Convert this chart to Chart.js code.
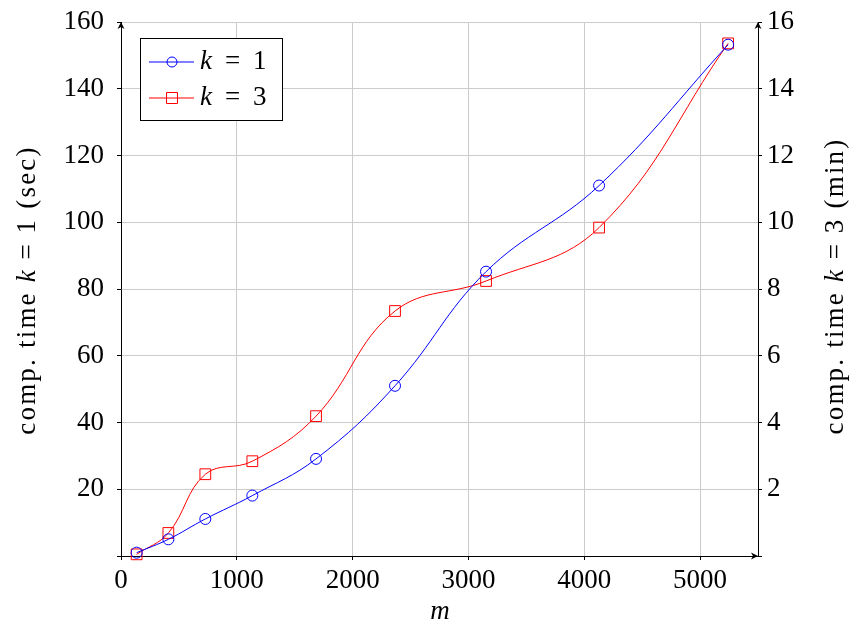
<!DOCTYPE html>
<html>
<head>
<meta charset="utf-8">
<script src="https://cdn.jsdelivr.net/npm/chart.js@4.4.1/dist/chart.umd.min.js"></script>
<style>
  html, body { margin: 0; padding: 0; background: #fff; }
  #wrap { width: 852px; height: 626px; }
</style>
</head>
<body>
<div id="wrap"><canvas id="timeChart" width="852" height="626"></canvas></div>
<script>
// values
const mValues = [135, 409, 728, 1134, 1684, 2366, 3152, 4128, 5242];
const k1Seconds = [1.0, 5.0, 11.1, 18.1, 29.1, 51, 85.2, 111, 153.2];
const k3Minutes = [0.05, 0.69, 2.45, 2.84, 4.19, 7.34, 8.24, 9.84, 15.36];
const xTicks = [0, 1000, 2000, 3000, 4000, 5000];

const serif = 'Liberation Serif';
const fontSize = 27;
const gridGray = '#cccccc';

// draw a string made of roman / italic pieces and gaps (in em)
function drawMixed(ctx, parts, x, y, size, align, spacing) {
  ctx.letterSpacing = (spacing || 0) + 'px';
  let total = 0;
  parts.forEach(p => {
    if (p.gap) { p.w = p.gap * size; total += p.w; return; }
    ctx.font = (p.it ? 'italic ' : '') + size + 'px "' + serif + '"';
    p.w = ctx.measureText(p.t).width;
    total += p.w;
  });
  let cx = align === 'left' ? x : x - total / 2;
  ctx.textAlign = 'left';
  ctx.textBaseline = 'middle';
  parts.forEach(p => {
    if (!p.gap) {
      ctx.font = (p.it ? 'italic ' : '') + size + 'px "' + serif + '"';
      ctx.fillText(p.t, cx, y);
    }
    cx += p.w;
  });
  ctx.letterSpacing = '0px';
}

function arrowHead(ctx, x, y, dir) {
  ctx.beginPath();
  if (dir === 'up') {
    ctx.moveTo(x, y);
    ctx.lineTo(x - 3.5, y + 7);
    ctx.lineTo(x, y + 5);
    ctx.lineTo(x + 3.5, y + 7);
  } else {
    ctx.moveTo(x, y);
    ctx.lineTo(x - 7, y - 3.5);
    ctx.lineTo(x - 5, y);
    ctx.lineTo(x - 7, y + 3.5);
  }
  ctx.closePath();
  ctx.fill();
}

const decorations = {
  id: 'decorations',
  afterDraw(chart) {
    const { ctx, chartArea: a } = chart;
    ctx.save();
    ctx.fillStyle = '#000';
    ctx.strokeStyle = '#000';

    arrowHead(ctx, a.left, a.top, 'up');
    arrowHead(ctx, a.right, a.top, 'up');
    arrowHead(ctx, a.right, a.bottom, 'right');

    // axis titles
    ctx.save();
    ctx.translate(28, 290);
    ctx.rotate(-Math.PI / 2);
    drawMixed(ctx, [{ t: 'comp. time ' }, { t: 'k', it: true }, { gap: 0.32 }, { t: '=' }, { gap: 0.32 }, { t: '1 (sec)' }], 0, 0, fontSize, 'center', 2.2);
    ctx.restore();

    ctx.save();
    ctx.translate(836, 286);
    ctx.rotate(-Math.PI / 2);
    drawMixed(ctx, [{ t: 'comp. time ' }, { t: 'k', it: true }, { gap: 0.32 }, { t: '=' }, { gap: 0.32 }, { t: '3 (min)' }], 0, 0, fontSize, 'center', 2.2);
    ctx.restore();

    drawMixed(ctx, [{ t: 'm', it: true }], 440, 612, fontSize);

    // legend
    ctx.fillStyle = '#fff';
    ctx.fillRect(140.5, 38.5, 142, 82);
    ctx.lineWidth = 1;
    ctx.strokeRect(140.5, 38.5, 142, 82);

    chart.data.datasets.forEach((ds, i) => {
      const y = 62 + i * 36;
      ctx.strokeStyle = ds.borderColor;
      ctx.beginPath();
      ctx.moveTo(149, y);
      ctx.lineTo(194, y);
      ctx.stroke();
      ctx.beginPath();
      if (ds.pointStyle === 'rect') {
        ctx.rect(166.5, y - 5.5, 11, 11);
      } else {
        ctx.arc(172, y, 5, 0, Math.PI * 2);
      }
      ctx.stroke();
      ctx.fillStyle = '#000';
      drawMixed(ctx, [{ t: 'k', it: true }, { gap: 0.45 }, { t: '=' }, { gap: 0.45 }, { t: String(ds.kValue) }], 200, y, fontSize, 'left', 0.8);
    });
    ctx.restore();
  }
};

// keep tick labels from pushing the plot area around
function noPad(s) {
  s.paddingTop = 0; s.paddingBottom = 0; s.paddingLeft = 0; s.paddingRight = 0;
}

new Chart(document.getElementById('timeChart'), {
  type: 'line',
  data: {
    datasets: [
      {
        label: 'k = 1',
        kValue: 1,
        data: mValues.map((m, i) => ({ x: m, y: k1Seconds[i] })),
        yAxisID: 'y',
        borderColor: '#0000ff',
        backgroundColor: 'rgba(0,0,0,0)',
        borderWidth: 1,
        pointStyle: 'circle',
        pointRadius: 5.5,
        pointBorderWidth: 1,
        tension: 0.4,
        clip: false
      },
      {
        label: 'k = 3',
        kValue: 3,
        data: mValues.map((m, i) => ({ x: m, y: k3Minutes[i] })),
        yAxisID: 'y2',
        borderColor: '#ff0000',
        backgroundColor: 'rgba(0,0,0,0)',
        borderWidth: 1,
        pointStyle: 'rect',
        pointRadius: 7.6,
        pointBorderWidth: 1,
        tension: 0.4,
        clip: false
      }
    ]
  },
  options: {
    responsive: false,
    animation: false,
    layout: { padding: { top: 22, left: 0, right: 0, bottom: 0 } },
    plugins: { legend: { display: false }, tooltip: { enabled: false } },
    scales: {
      x: {
        type: 'linear',
        min: 0,
        max: 5500,
        afterBuildTicks: s => { s.ticks = xTicks.map(v => ({ value: v })); },
        afterFit: s => { s.height = 70; noPad(s); },
        grid: { color: gridGray, tickColor: '#000', tickLength: 4 },
        border: { color: '#000' },
        ticks: {
          color: '#000', padding: 5, maxRotation: 0,
          font: { family: serif, size: fontSize },
          callback: v => String(v)
        }
      },
      y: {
        position: 'left',
        min: 0,
        max: 160,
        afterFit: s => { s.width = 121; noPad(s); },
        grid: { color: gridGray, tickColor: '#000', tickLength: 4 },
        border: { color: '#000' },
        ticks: {
          stepSize: 20, color: '#000', padding: 13,
          font: { family: serif, size: fontSize },
          callback: v => (v === 0 ? '' : String(v))
        }
      },
      y2: {
        position: 'right',
        min: 0,
        max: 16,
        afterFit: s => { s.width = 94; noPad(s); },
        grid: { drawOnChartArea: false, tickColor: '#000', tickLength: 4 },
        border: { color: '#000' },
        ticks: {
          stepSize: 2, color: '#000', padding: 5,
          font: { family: serif, size: fontSize },
          callback: v => (v === 0 ? '' : String(v))
        }
      }
    }
  },
  plugins: [decorations]
});
</script>
</body>
</html>
